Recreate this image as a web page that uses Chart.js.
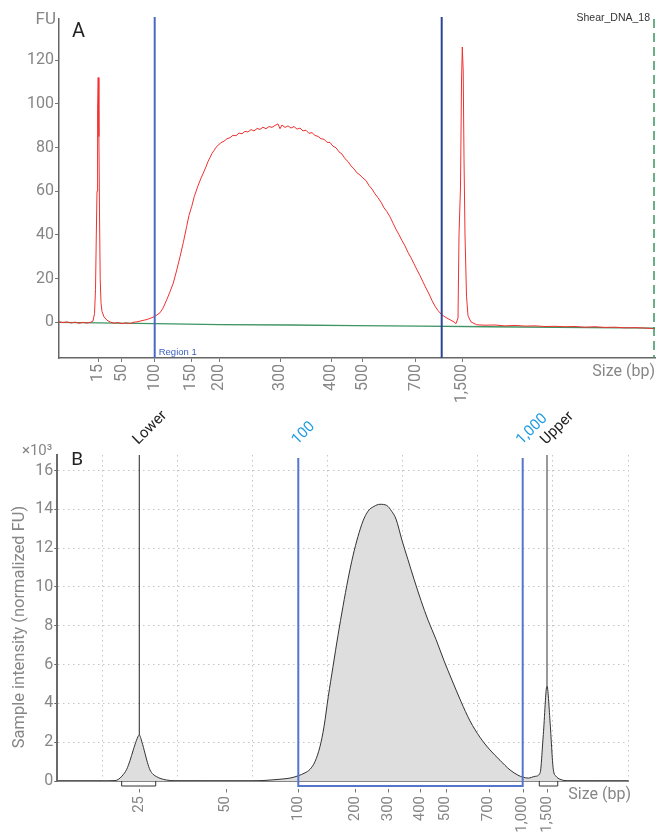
<!DOCTYPE html>
<html>
<head>
<meta charset="utf-8">
<script src="https://cdn.jsdelivr.net/npm/chart.js@4.4.1/dist/chart.umd.min.js"></script>
<style>
  html, body { margin: 0; padding: 0; background: #fff; }
  #wrap { position: relative; width: 656px; height: 833px; }
  #chartA { position: absolute; left: 0; top: 0; }
  #chartB { position: absolute; left: 0; top: 405px; }
</style>
</head>
<body>
<div id="wrap">
  <canvas id="chartA" width="656" height="405"></canvas>
  <canvas id="chartB" width="656" height="428"></canvas>
</div>
<script>
// ---- Panel A : electropherogram (migration time in s, FU) ----
const sizeLabelsA = ['15', '50', '100', '150', '200', '300', '400', '500', '700', '1,500'];
const sizeTimesA  = [23.93, 26.27, 29.57, 33.20, 36.03, 42.10, 47.20, 50.37, 55.67, 60.33];
const fuTicksA    = [0, 20, 40, 60, 80, 100, 120];
const regionTimesA = [29.57, 58.27];
const runEndTimeA  = 79.5;

const traceTimeA = [
  20.00, 20.40, 20.80, 21.20, 21.60, 22.00, 22.40, 22.80, 23.20, 23.40,
  23.55, 23.65, 23.73, 23.80, 23.86, 23.92, 23.99, 24.05, 24.12, 24.20,
  24.30, 24.50, 24.80, 25.10, 25.50, 25.90, 26.30, 26.70, 27.10, 27.50,
  27.90, 28.30, 28.70, 29.10, 29.60, 30.10, 30.40, 30.77, 31.10, 31.43,
  31.75, 32.10, 32.43, 32.77, 33.00, 33.27, 33.53, 33.90, 34.20, 34.43,
  34.70, 34.90, 35.10, 35.30, 35.50, 35.70, 35.90, 36.20, 36.50, 36.80,
  37.10, 37.40, 37.70, 38.00, 38.30, 38.60, 38.90, 39.20, 39.50, 39.80,
  40.10, 40.40, 40.70, 41.00, 41.30, 41.60, 41.90, 42.10, 42.30, 42.60,
  42.90, 43.20, 43.50, 43.80, 44.10, 44.40, 44.70, 45.00, 45.30, 45.60,
  45.90, 46.20, 46.50, 46.80, 47.10, 47.40, 47.70, 48.00, 48.30, 48.60,
  48.90, 49.20, 49.50, 49.80, 50.10, 50.40, 50.70, 51.00, 51.30, 51.60,
  51.90, 52.20, 52.50, 52.80, 53.10, 53.40, 53.70, 54.00, 54.30, 54.60,
  54.90, 55.20, 55.50, 55.80, 56.10, 56.40, 56.70, 57.00, 57.30, 57.60,
  57.90, 58.27, 58.70, 59.10, 59.50, 59.70, 59.90, 60.00, 60.15, 60.25,
  60.33, 60.42, 60.50, 60.60, 60.75, 60.90, 61.20, 61.77, 62.60, 63.60,
  64.60, 65.60, 66.60, 67.60, 68.60, 69.60, 70.60, 71.60, 72.60, 73.60,
  74.60, 75.60, 76.60, 77.60, 78.60, 79.60
];
const traceFuA = [
  0.3, -0.1, 0.2, -0.3, 0.1, -0.4, 0.0, -0.3, 0.1, 0.6,
  4, 15, 40, 60, 98, 112, 85, 50, 20, 9,
  5, 2.5, 1.0, 0.2, -0.4, -0.1, -0.6, -0.2, -0.5, 0.1,
  0.3, 0.8, 1.2, 1.8, 2.8, 4.4, 6.5, 10.3, 14.0, 18.0,
  23.5, 30.0, 36.5, 43.9, 49.0, 53.0, 57.6, 62.5, 66.0, 68.3,
  71.2, 73.6, 75.4, 77.3, 78.6, 80.1, 81.0, 82.2, 82.9, 84.0,
  84.5, 85.6, 85.4, 86.6, 86.3, 87.4, 87.1, 88.2, 87.6, 88.7,
  88.3, 89.3, 88.6, 89.6, 89.2, 90.1, 90.8, 88.6, 90.3, 89.2,
  89.9, 88.9, 89.6, 88.4, 88.9, 87.6, 87.9, 86.5, 86.8, 85.5,
  85.1, 84.0, 83.8, 82.4, 82.3, 80.6, 79.9, 78.0, 77.0, 74.9,
  73.6, 71.6, 70.2, 68.4, 67.4, 66.0, 64.9, 62.6, 61.0, 58.8,
  57.0, 55.0, 52.4, 50.6, 48.3, 45.4, 42.6, 40.1, 37.4, 35.0,
  32.0, 29.6, 26.8, 24.0, 21.4, 18.5, 15.7, 13.0, 10.0, 7.4,
  5.4, 3.5, 2.2, 1.2, 0.2, -0.6, 2.0, 40, 62, 110,
  126, 115, 75, 40, 12, 3.0, 0.2, -1.1, -1.3, -1.2,
  -1.6, -1.4, -1.7, -1.6, -1.9, -1.8, -2.0, -1.9, -2.2, -2.0,
  -2.3, -2.2, -2.5, -2.4, -2.6, -2.9
];
const baselineTimeA = [20.0, 29.6, 36.1, 43.1, 49.6, 56.1, 63.1, 79.6];
const baselineFuA   = [0.0, -0.6, -1.0, -1.2, -1.5, -1.7, -2.0, -2.6];

// ---- Panel B : normalized trace (x = migration position, y in x10^3 FU) ----
const sizeLabelsB = ['25', '50', '100', '200', '300', '400', '500', '700', '1,000', '1,500'];
const sizeTimesB  = [14.84, 26.36, 36.04, 43.6, 48.04, 52.27, 55.69, 61.43, 65.96, 69.2];
const intensityTicksB = [0, 2, 4, 6, 8, 10, 12, 14, 16];
const regionB = [36.04, 65.96];
const regionLabelsB = ['100', '1,000'];
const markerTimesB  = [14.84, 69.2];
const markerPeaksB  = [2.37, 4.9];
const markerNamesB  = ['Lower', 'Upper'];
const markerBracketsB = [[12.49, 17.03], [68.17, 70.63]];

const traceTimeB = [
  3.91, 9.6, 11.6, 12.04, 12.53, 13.16, 13.6, 14.04, 14.47, 14.84,
  15.2, 15.6, 15.93, 16.27, 16.67, 17.16, 17.73, 18.49, 19.6, 29.6,
  31.6, 32.67, 33.87, 34.93, 36.04, 36.93, 37.6, 38.27, 38.93, 39.47,
  40.04, 40.67, 41.33, 42.0, 42.67, 43.33, 44.0, 44.67, 45.33, 46.13,
  46.93, 47.83, 48.49, 49.07, 49.87, 50.67, 51.47, 52.4, 53.33, 54.4,
  55.47, 56.53, 57.73, 58.93, 60.27, 61.6, 62.93, 64.27, 65.33, 65.96,
  66.71, 67.6, 68.27, 68.71, 69.2, 69.6, 70.04, 70.4, 70.93, 72.27,
  80.0
];
const traceIntensityB = [
  0, 0, 0.02, 0.08, 0.25, 0.6, 1.05, 1.6, 2.1, 2.37,
  2.0, 1.43, 0.95, 0.57, 0.35, 0.22, 0.12, 0.05, 0.01, 0,
  0.03, 0.06, 0.1, 0.15, 0.27, 0.42, 0.6, 1.0, 1.77, 2.8,
  4.35, 5.9, 7.5, 9.0, 10.4, 11.6, 12.6, 13.4, 13.9, 14.15,
  14.26, 14.2, 13.9, 13.5, 12.4, 11.4, 10.4, 9.3, 8.3, 7.3,
  6.2, 5.2, 4.1, 3.1, 2.25, 1.6, 1.07, 0.57, 0.3, 0.2,
  0.15, 0.24, 0.4, 2.4, 4.9, 3.1, 0.6, 0.25, 0.09, 0.01,
  0
];

const GRAY_TXT = '#868686';
Chart.defaults.font.family = "Roboto, 'Noto Sans', sans-serif";

const pairs = (xs, ys) => xs.map((v, i) => ({ x: v, y: ys[i] }));
const setTicks = list => s => { s.ticks = list.map(v => ({ value: v })); };

// ----- overlay for panel A -----
const overlayA = {
  id: 'overlayA',
  afterDatasetsDraw(chart) {
    const { ctx, chartArea: a, scales: { x } } = chart;
    ctx.save();
    // region lines
    ['#4a68c4', '#2b4699'].forEach((col, i) => {
      const px = x.getPixelForValue(regionTimesA[i]);
      ctx.strokeStyle = col; ctx.lineWidth = 2;
      ctx.beginPath(); ctx.moveTo(px, a.top - 2); ctx.lineTo(px, a.bottom); ctx.stroke();
    });
    // end of run (dashed)
    const pe = x.getPixelForValue(runEndTimeA);
    ctx.strokeStyle = '#3b9563'; ctx.lineWidth = 1.5; ctx.setLineDash([9, 5]);
    ctx.beginPath(); ctx.moveTo(pe, a.top); ctx.lineTo(pe, a.bottom); ctx.stroke();
    ctx.setLineDash([]);

    ctx.textBaseline = 'middle';
    ctx.fillStyle = '#3a5fbf'; ctx.textAlign = 'left';
    ctx.font = "9.5px 'Liberation Sans', sans-serif";
    ctx.fillText('Region 1', x.getPixelForValue(regionTimesA[0]) + 4, a.bottom - 6);

    ctx.fillStyle = '#333'; ctx.textAlign = 'right';
    ctx.font = "10.5px 'Liberation Sans', sans-serif";
    ctx.fillText('Shear_DNA_18', a.right - 5, a.top - 1);

    ctx.fillStyle = GRAY_TXT; ctx.font = "16px Roboto";
    ctx.fillText('Size (bp)', a.right, a.bottom + 14);
    ctx.font = "17px Roboto";
    ctx.fillText('FU', a.left - 3, a.top + 0.5);

    ctx.fillStyle = '#222'; ctx.textAlign = 'left'; ctx.textBaseline = 'alphabetic';
    ctx.font = "20px Roboto";
    ctx.fillText('A', a.left + 13, a.top + 18);
    ctx.restore();
  }
};

new Chart(document.getElementById('chartA'), {
  type: 'line',
  data: {
    datasets: [
      { label: 'Sample', data: pairs(traceTimeA, traceFuA), borderColor: '#f0302f', borderWidth: 1, pointRadius: 0, tension: 0 },
      { label: 'Baseline', data: pairs(baselineTimeA, baselineFuA), borderColor: '#3e9462', borderWidth: 1.3, pointRadius: 0, tension: 0 }
    ]
  },
  options: {
    responsive: false, animation: false, events: [],
    layout: { padding: { top: 19, right: 1, left: 0, bottom: 0 } },
    plugins: { legend: { display: false }, tooltip: { enabled: false } },
    scales: {
      x: {
        type: 'linear', min: 20, max: 79.6,
        afterBuildTicks: setTicks(sizeTimesA),
        afterFit: s => { s.height = 47; },
        ticks: { autoSkip: false, minRotation: 90, maxRotation: 90, padding: 2, color: GRAY_TXT,
                 font: { size: 16 }, callback: (v, i) => sizeLabelsA[i] },
        grid: { drawOnChartArea: false, drawTicks: true, tickLength: 4, tickColor: '#777' },
        border: { color: '#666', width: 1.5 }
      },
      y: {
        min: -16.3, max: 138.8,
        afterBuildTicks: setTicks(fuTicksA),
        afterFit: s => { s.width = 59; },
        ticks: { padding: 1, color: GRAY_TXT, font: { size: 16 } },
        grid: { drawOnChartArea: false, drawTicks: true, tickLength: 4, tickColor: '#777' },
        border: { color: '#666', width: 1.5 }
      }
    }
  },
  plugins: [overlayA]
});

// ----- overlay for panel B -----
const overlayB = {
  id: 'overlayB',
  afterDatasetsDraw(chart) {
    const { ctx, chartArea: a, scales: { x, y } } = chart;
    ctx.save();
    // peak brackets under axis
    ctx.strokeStyle = '#333'; ctx.lineWidth = 1;
    markerBracketsB.forEach(([lo, hi]) => {
      const x1 = x.getPixelForValue(lo), x2 = x.getPixelForValue(hi);
      ctx.beginPath(); ctx.moveTo(x1, a.bottom); ctx.lineTo(x1, a.bottom + 5);
      ctx.lineTo(x2, a.bottom + 5); ctx.lineTo(x2, a.bottom); ctx.stroke();
    });
    // region box
    const r1 = x.getPixelForValue(regionB[0]), r2 = x.getPixelForValue(regionB[1]);
    ctx.strokeStyle = '#5676cc'; ctx.lineWidth = 2;
    ctx.beginPath(); ctx.moveTo(r1, a.top + 3); ctx.lineTo(r1, a.bottom + 5);
    ctx.lineTo(r2, a.bottom + 5); ctx.lineTo(r2, a.top + 3); ctx.stroke();
    // ladder markers
    [['#222', 1], ['#999', 2]].forEach(([col, w], i) => {
      const px = x.getPixelForValue(markerTimesB[i]);
      ctx.strokeStyle = col; ctx.lineWidth = w;
      ctx.beginPath(); ctx.moveTo(px, a.top); ctx.lineTo(px, y.getPixelForValue(markerPeaksB[i])); ctx.stroke();
    });
    // small tick dashes under the axis
    ctx.strokeStyle = '#777'; ctx.lineWidth = 1;
    sizeTimesB.forEach(v => {
      const px = Math.round(x.getPixelForValue(v)) + 0.5;
      ctx.beginPath(); ctx.moveTo(px, a.bottom + 8); ctx.lineTo(px, a.bottom + 11.5); ctx.stroke();
    });
    // slanted labels
    ctx.font = '15px Roboto'; ctx.textAlign = 'left'; ctx.textBaseline = 'alphabetic';
    const slanted = [
      [markerTimesB[0], markerNamesB[0], '#222'],
      [regionB[0], regionLabelsB[0], '#1d9be2'],
      [regionB[1], regionLabelsB[1], '#1d9be2'],
      [markerTimesB[1], markerNamesB[1], '#222']
    ];
    slanted.forEach(([v, txt, col]) => {
      ctx.save();
      ctx.translate(x.getPixelForValue(v) - 1, a.top - 10);
      ctx.rotate(-Math.PI / 4);
      ctx.fillStyle = col;
      ctx.fillText(txt, 0, 0);
      ctx.restore();
    });
    // axis title
    ctx.save();
    ctx.translate(20, a.top + 172);
    ctx.rotate(-Math.PI / 2);
    ctx.fillStyle = GRAY_TXT; ctx.textAlign = 'center'; ctx.textBaseline = 'middle';
    ctx.font = '16.5px Roboto';
    ctx.fillText('Sample intensity (normalized FU)', 0, 0);
    ctx.restore();
    // texts
    ctx.fillStyle = GRAY_TXT; ctx.textAlign = 'right'; ctx.textBaseline = 'middle';
    ctx.font = '15px Roboto';
    ctx.fillText('\u00d710\u00b3', a.left - 5, a.top - 4);
    ctx.font = '16px Roboto';
    ctx.fillText('Size (bp)', a.right + 3, a.bottom + 14);
    ctx.fillStyle = '#222'; ctx.textAlign = 'left'; ctx.textBaseline = 'alphabetic';
    ctx.font = '19px Roboto';
    ctx.fillText('B', a.left + 14, a.top + 10);
    ctx.restore();
  }
};

new Chart(document.getElementById('chartB'), {
  type: 'line',
  data: {
    datasets: [{
      label: 'Sample', data: pairs(traceTimeB, traceIntensityB),
      borderColor: '#333', borderWidth: 1, backgroundColor: '#dedede',
      fill: 'origin', pointRadius: 0, cubicInterpolationMode: 'monotone'
    }]
  },
  options: {
    responsive: false, animation: false, events: [],
    layout: { padding: { top: 50, right: 28, left: 0, bottom: 0 } },
    plugins: { legend: { display: false }, tooltip: { enabled: false } },
    scales: {
      x: {
        type: 'linear', position: 'bottom', min: 3.91, max: 80,
        afterBuildTicks: setTicks(sizeTimesB),
        afterFit: s => { s.height = 52; },
        ticks: { autoSkip: false, minRotation: 90, maxRotation: 90, padding: 7, color: GRAY_TXT,
                 font: { size: 15 }, callback: (v, i) => sizeLabelsB[i] },
        grid: { display: false },
        border: { color: '#858585', width: 2 }
      },
      xg: {
        type: 'linear', position: 'top', min: 3.91, max: 80,
        afterFit: s => { s.height = 0; },
        ticks: { display: false, stepSize: 10, includeBounds: false },
        grid: { color: '#c4c4c4', drawTicks: false, lineWidth: 1 },
        border: { display: false, dash: [1.5, 3.5] }
      },
      y: {
        min: 0, max: 16.8,
        afterBuildTicks: setTicks(intensityTicksB),
        afterFit: s => { s.width = 57.3; },
        ticks: { padding: 1, color: GRAY_TXT, font: { size: 16 } },
        grid: { color: '#c4c4c4', drawTicks: true, tickLength: 3, tickColor: '#666' },
        border: { color: '#6a6a6a', width: 2, dash: [1.5, 3.5] }
      }
    }
  },
  plugins: [overlayB]
});
</script>
</body>
</html>
